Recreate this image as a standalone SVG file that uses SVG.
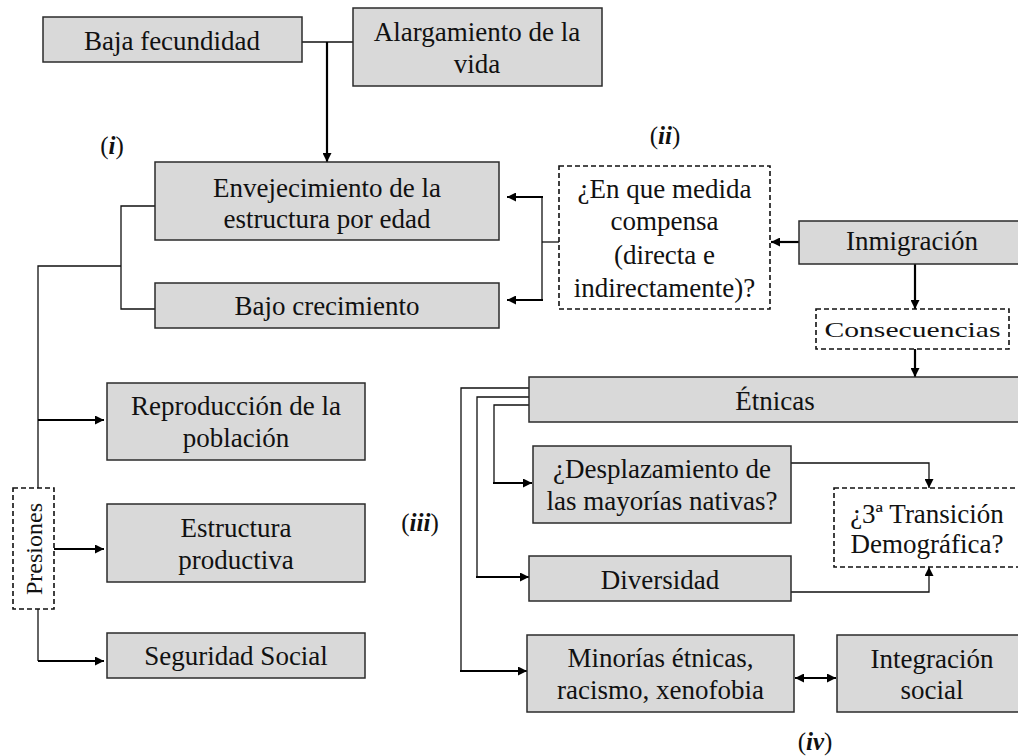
<svg xmlns="http://www.w3.org/2000/svg" width="1018" height="756" viewBox="0 0 1018 756" font-family="Liberation Serif, DejaVu Serif, serif">
<style>
.box{fill:#d9d9d9;stroke:#2b2b2b;stroke-width:1.5}
.dash{fill:#fff;stroke:#111;stroke-width:1.6;stroke-dasharray:5,3}
text{font-family:'Liberation Serif', 'DejaVu Serif', serif}
.t{font-size:27px;fill:#111;text-anchor:middle}
.lab{font-size:25px;fill:#111;text-anchor:middle}
.thin{fill:none;stroke:#111;stroke-width:1.3}
.thick{fill:none;stroke:#000;stroke-width:2.2}
</style>
<defs>
<marker id="ah" viewBox="0 0 10 10" refX="10" refY="5" markerWidth="10" markerHeight="9" markerUnits="userSpaceOnUse" orient="auto-start-reverse">
<path d="M0,0 L10,5 L0,10 z" fill="#000"/>
</marker>
</defs>
<rect width="1018" height="756" fill="#fff"/>

<g id="connectors">
<path class="thin" d="M302,42 H353"/>
<path class="thick" d="M327,42 V162" marker-end="url(#ah)"/>
<path class="thin" d="M155,206 H121 V309 H155"/>
<path class="thin" d="M121,266 H38 V488"/>
<path class="thick" d="M38,420 H104" marker-end="url(#ah)"/>
<path class="thick" d="M54,549 H104" marker-end="url(#ah)"/>
<path class="thin" d="M38,609 V661"/>
<path class="thick" d="M38,661 H104" marker-end="url(#ah)"/>
<path class="thin" d="M559,242 H542"/>
<path class="thin" d="M542,197 V300"/>
<path class="thick" d="M543,197 H507" marker-end="url(#ah)"/>
<path class="thick" d="M543,300 H507" marker-end="url(#ah)"/>
<path class="thick" d="M799,242 H771" marker-end="url(#ah)"/>
<path class="thick" d="M915,264 V309" marker-end="url(#ah)"/>
<path class="thick" d="M915,349 V377" marker-end="url(#ah)"/>
<path class="thin" d="M529,388 H461 V671"/>
<path class="thick" d="M460,671 H527" marker-end="url(#ah)"/>
<path class="thin" d="M529,397 H477 V577"/>
<path class="thick" d="M476,577 H529" marker-end="url(#ah)"/>
<path class="thin" d="M529,405 H494 V483"/>
<path class="thick" d="M493,483 H532" marker-end="url(#ah)"/>
<path class="thin" d="M791,463 H929 V488" marker-end="url(#ah)"/>
<path class="thin" d="M791,592 H929 V567" marker-end="url(#ah)"/>
<path class="thick" d="M795,678 H836" marker-start="url(#ah)" marker-end="url(#ah)"/>
</g>

<g id="baja-fecundidad">
<rect class="box" x="43" y="17" width="259" height="45"/>
<text class="t" x="172" y="50">Baja fecundidad</text>
</g>
<g id="alargamiento">
<rect class="box" x="353" y="8" width="249" height="78"/>
<text class="t" x="477" y="41">Alargamiento de la</text>
<text class="t" x="477" y="73">vida</text>
</g>
<g id="envejecimiento">
<rect class="box" x="155" y="162" width="344" height="78"/>
<text class="t" x="327" y="197">Envejecimiento de la</text>
<text class="t" x="327" y="228">estructura por edad</text>
</g>
<g id="bajo-crecimiento">
<rect class="box" x="155" y="283" width="344" height="45"/>
<text class="t" x="327" y="315">Bajo crecimiento</text>
</g>
<g id="compensa">
<rect class="dash" x="559" y="166" width="211" height="143"/>
<text class="t" x="664.5" y="198">¿En que medida</text>
<text class="t" x="664.5" y="230">compensa</text>
<text class="t" x="664.5" y="264">(directa e</text>
<text class="t" x="664.5" y="297">indirectamente)?</text>
</g>
<g id="inmigracion">
<rect class="box" x="799" y="221" width="228" height="43"/>
<text class="t" x="912" y="250">Inmigración</text>
</g>
<g id="consecuencias">
<rect class="dash" x="816" y="309" width="193" height="40"/>
<text class="t" x="912.5" y="337" style="font-size:22px" textLength="176" lengthAdjust="spacingAndGlyphs">Consecuencias</text>
</g>
<g id="reproduccion">
<rect class="box" x="107" y="383" width="258" height="77"/>
<text class="t" x="236" y="415">Reproducción de la</text>
<text class="t" x="236" y="447">población</text>
</g>
<g id="presiones">
<rect class="dash" x="13" y="488" width="41" height="121"/>
<text class="t" x="0" y="0" style="font-size:24px" transform="translate(42,549) rotate(-90)">Presiones</text>
</g>
<g id="estructura-productiva">
<rect class="box" x="107" y="504" width="258" height="78"/>
<text class="t" x="236" y="537">Estructura</text>
<text class="t" x="236" y="569">productiva</text>
</g>
<g id="seguridad-social">
<rect class="box" x="107" y="633" width="258" height="45"/>
<text class="t" x="236" y="665">Seguridad Social</text>
</g>
<g id="etnicas">
<rect class="box" x="529" y="377" width="494" height="45"/>
<text class="t" x="775" y="410">Étnicas</text>
</g>
<g id="desplazamiento">
<rect class="box" x="533" y="446" width="258" height="77"/>
<text class="t" x="662" y="478">¿Desplazamiento de</text>
<text class="t" x="662" y="510">las mayorías nativas?</text>
</g>
<g id="transicion">
<rect class="dash" x="834" y="488" width="190" height="79"/>
<text class="t" x="927" y="523">¿3ª Transición</text>
<text class="t" x="927" y="553">Demográfica?</text>
</g>
<g id="diversidad">
<rect class="box" x="529" y="556" width="262" height="45"/>
<text class="t" x="660" y="589">Diversidad</text>
</g>
<g id="minorias">
<rect class="box" x="527" y="635" width="267" height="77"/>
<text class="t" x="660.5" y="667">Minorías étnicas,</text>
<text class="t" x="660.5" y="699">racismo, xenofobia</text>
</g>
<g id="integracion">
<rect class="box" x="837" y="635" width="190" height="77"/>
<text class="t" x="932" y="668">Integración</text>
<text class="t" x="932" y="699">social</text>
</g>

<g id="labels">
<text class="lab" x="112" y="154">(<tspan font-weight="bold" font-style="italic">i</tspan>)</text>
<text class="lab" x="665" y="144">(<tspan font-weight="bold" font-style="italic">ii</tspan>)</text>
<text class="lab" x="420" y="531">(<tspan font-weight="bold" font-style="italic">iii</tspan>)</text>
<text class="lab" x="815" y="750">(<tspan font-weight="bold" font-style="italic">iv</tspan>)</text>
</g>
</svg>
